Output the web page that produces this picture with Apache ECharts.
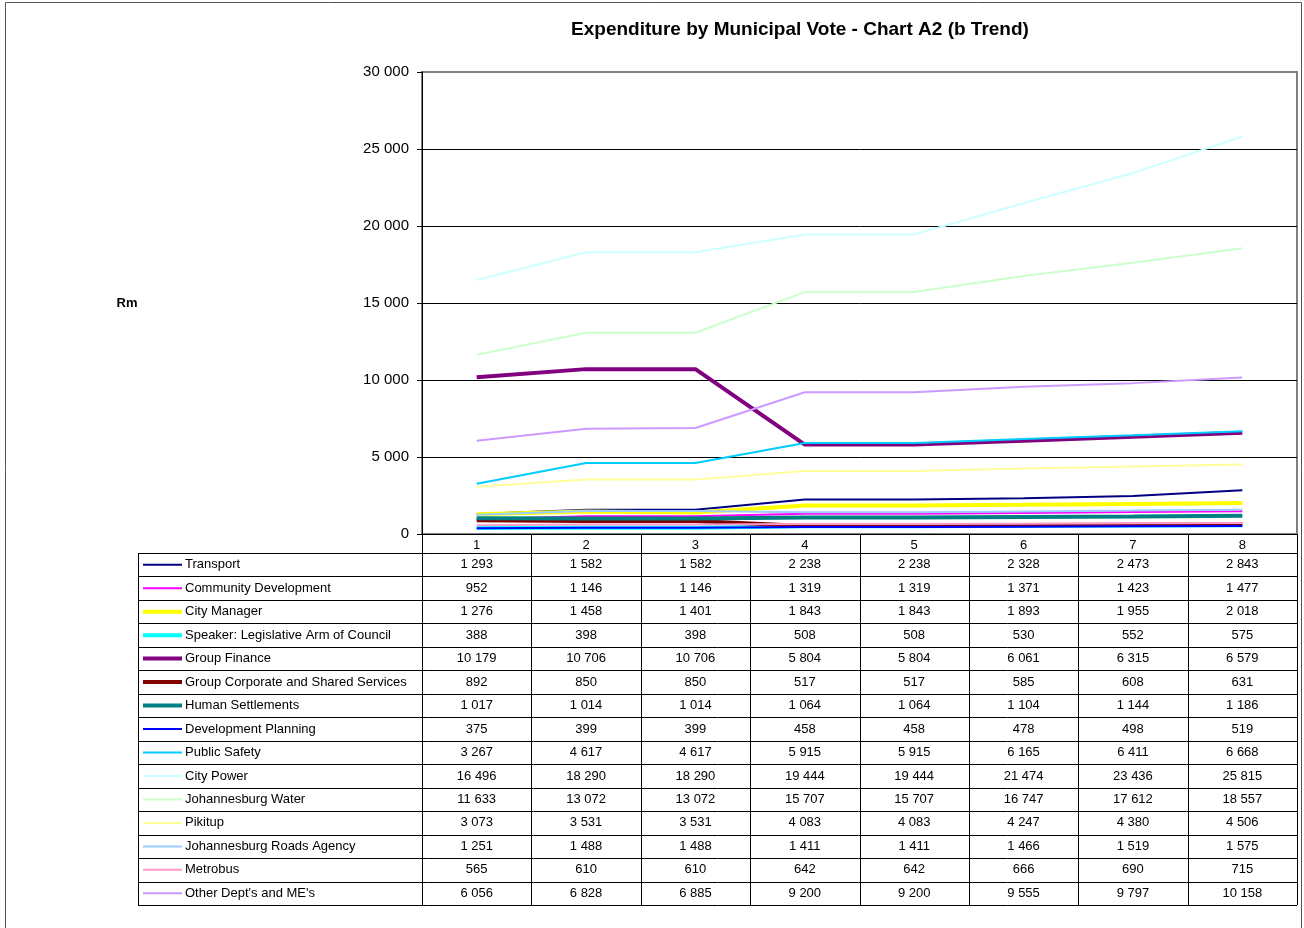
<!DOCTYPE html>
<html>
<head>
<meta charset="utf-8">
<script src="https://cdn.jsdelivr.net/npm/echarts@6/dist/echarts.min.js"></script>
<style>
  html, body { margin: 0; padding: 0; background: #fff; }
  #main { width: 1304px; height: 928px; }
</style>
</head>
<body>
<div id="main"></div>
<script>
// years (trend columns)
var categories = ['1', '2', '3', '4', '5', '6', '7', '8']

var names = [
  'Transport',
  'Community Development',
  'City Manager',
  'Speaker: Legislative Arm of Council',
  'Group Finance',
  'Group Corporate and Shared Services',
  'Human Settlements',
  'Development Planning',
  'Public Safety',
  'City Power',
  'Johannesburg Water',
  'Pikitup',
  'Johannesburg Roads Agency',
  'Metrobus',
  "Other Dept's and ME's"
]

var transport = [1293, 1582, 1582, 2238, 2238, 2328, 2473, 2843]
var communityDev = [952, 1146, 1146, 1319, 1319, 1371, 1423, 1477]
var cityManager = [1276, 1458, 1401, 1843, 1843, 1893, 1955, 2018]
var speaker = [388, 398, 398, 508, 508, 530, 552, 575]
var groupFinance = [10179, 10706, 10706, 5804, 5804, 6061, 6315, 6579]
var groupCorporate = [892, 850, 850, 517, 517, 585, 608, 631]
var humanSettlements = [1017, 1014, 1014, 1064, 1064, 1104, 1144, 1186]
var devPlanning = [375, 399, 399, 458, 458, 478, 498, 519]
var publicSafety = [3267, 4617, 4617, 5915, 5915, 6165, 6411, 6668]
var cityPower = [16496, 18290, 18290, 19444, 19444, 21474, 23436, 25815]
var jhbWater = [11633, 13072, 13072, 15707, 15707, 16747, 17612, 18557]
var pikitup = [3073, 3531, 3531, 4083, 4083, 4247, 4380, 4506]
var jhbRoads = [1251, 1488, 1488, 1411, 1411, 1466, 1519, 1575]
var metrobus = [565, 610, 610, 642, 642, 666, 690, 715]
var otherDepts = [6056, 6828, 6885, 9200, 9200, 9555, 9797, 10158]

var values = [transport, communityDev, cityManager, speaker, groupFinance, groupCorporate,
  humanSettlements, devPlanning, publicSafety, cityPower, jhbWater, pikitup, jhbRoads,
  metrobus, otherDepts]

var colors = ['#000080', '#ff00ff', '#ffff00', '#00ffff', '#800080', '#800000', '#008080',
  '#0000ff', '#00ccff', '#ccffff', '#ccffcc', '#ffff99', '#99ccff', '#ff99cc', '#cc99ff']
var widths = [2, 2, 4, 4, 4, 4, 4, 2, 2, 2, 2, 2, 2, 2, 2]

var yTicks = [0, 5000, 10000, 15000, 20000, 25000, 30000]

var FONT = '"Liberation Sans", Arial, sans-serif'

// plot / table geometry
var plotLeft = 422
var plotRight = 1297
var plotTop = 72
var plotBottom = 534
var tableLeft = 138
var tableTop = 553
var rowH = 23.47

function fmt(v) {
  return String(v).replace(/\B(?=(\d{3})+(?!\d))/g, ' ')
}

function buildTable() {
  var g = []
  var colW = (plotRight - plotLeft) / categories.length
  var tableBottom = tableTop + rowH * names.length
  // horizontal rules
  for (var i = 0; i <= names.length; i++) {
    var y = Math.round(tableTop + i * rowH) + 0.5
    g.push({ type: 'line', shape: { x1: tableLeft, y1: y, x2: plotRight, y2: y },
      style: { stroke: '#000', lineWidth: 1 }, silent: true })
  }
  // vertical rules
  g.push({ type: 'line', shape: { x1: tableLeft + 0.5, y1: tableTop, x2: tableLeft + 0.5, y2: tableBottom },
    style: { stroke: '#000', lineWidth: 1 }, silent: true })
  for (var k = 0; k <= categories.length; k++) {
    var x = Math.round(plotLeft + k * colW) + 0.5
    g.push({ type: 'line', shape: { x1: x, y1: plotBottom, x2: x, y2: tableBottom },
      style: { stroke: '#000', lineWidth: 1 }, silent: true })
  }
  // rows: legend key + name + values
  for (var r = 0; r < names.length; r++) {
    var cy = tableTop + (r + 0.5) * rowH
    g.push({ type: 'line', shape: { x1: 143, y1: cy, x2: 182, y2: cy },
      style: { stroke: colors[r], lineWidth: widths[r] }, silent: true })
    g.push({ type: 'text', x: 185, y: cy,
      style: { text: names[r], fill: '#000', font: '13px ' + FONT, align: 'left', verticalAlign: 'middle' } })
    for (var c = 0; c < categories.length; c++) {
      g.push({ type: 'text', x: plotLeft + (c + 0.5) * colW, y: cy,
        style: { text: fmt(values[r][c]), fill: '#000', font: '13px ' + FONT, align: 'center', verticalAlign: 'middle' } })
    }
  }
  // outer frame
  g.push({ type: 'rect', shape: { x: 5.5, y: 2.5, width: 1296, height: 940 },
    style: { fill: 'none', stroke: '#555', lineWidth: 1 }, silent: true, z: -1 })
  // y axis caption
  g.push({ type: 'text', x: 127, y: 303,
    style: { text: 'Rm', fill: '#000', font: 'bold 13px ' + FONT, align: 'center', verticalAlign: 'middle' } })
  return g
}

var chart = echarts.init(document.getElementById('main'), null, { renderer: 'canvas' })

var series = []
for (var s = 0; s < names.length; s++) {
  series.push({
    name: names[s],
    type: 'line',
    data: values[s],
    showSymbol: false,
    symbol: 'none',
    smooth: false,
    lineStyle: { color: colors[s], width: widths[s] },
    itemStyle: { color: colors[s] },
    emphasis: { disabled: true },
    z: 2 + s
  })
}

var option = {
  animation: false,
  backgroundColor: '#fff',
  textStyle: { fontFamily: FONT },
  title: {
    text: 'Expenditure by Municipal Vote - Chart A2 (b Trend)',
    left: 795,
    top: 15,
    textAlign: 'center',
    textStyle: { fontSize: 19, fontWeight: 'bold', color: '#000', fontFamily: FONT }
  },
  grid: {
    left: plotLeft,
    right: 1304 - plotRight,
    top: plotTop,
    bottom: 928 - plotBottom,
    show: true,
    borderColor: '#808080',
    borderWidth: 2,
    backgroundColor: 'transparent'
  },
  xAxis: {
    type: 'category',
    data: categories,
    boundaryGap: true,
    axisLine: { lineStyle: { color: '#000', width: 1 } },
    axisTick: { show: false },
    axisLabel: { color: '#000', fontSize: 13, margin: 5, fontFamily: FONT },
    splitLine: { show: false }
  },
  yAxis: {
    type: 'value',
    min: 0,
    max: 30000,
    interval: 5000,
    axisLine: { show: true, lineStyle: { color: '#000', width: 1 } },
    axisTick: { show: true, length: 5, lineStyle: { color: '#000' } },
    axisLabel: {
      color: '#000', fontSize: 15, margin: 13, fontFamily: FONT,
      formatter: function (v) { return yTicks.indexOf(v) >= 0 ? fmt(v) : '' }
    },
    splitLine: { show: true, showMinLine: false, showMaxLine: false, lineStyle: { color: '#000', width: 1 } }
  },
  graphic: buildTable(),
  series: series
}

chart.setOption(option)
</script>
</body>
</html>
